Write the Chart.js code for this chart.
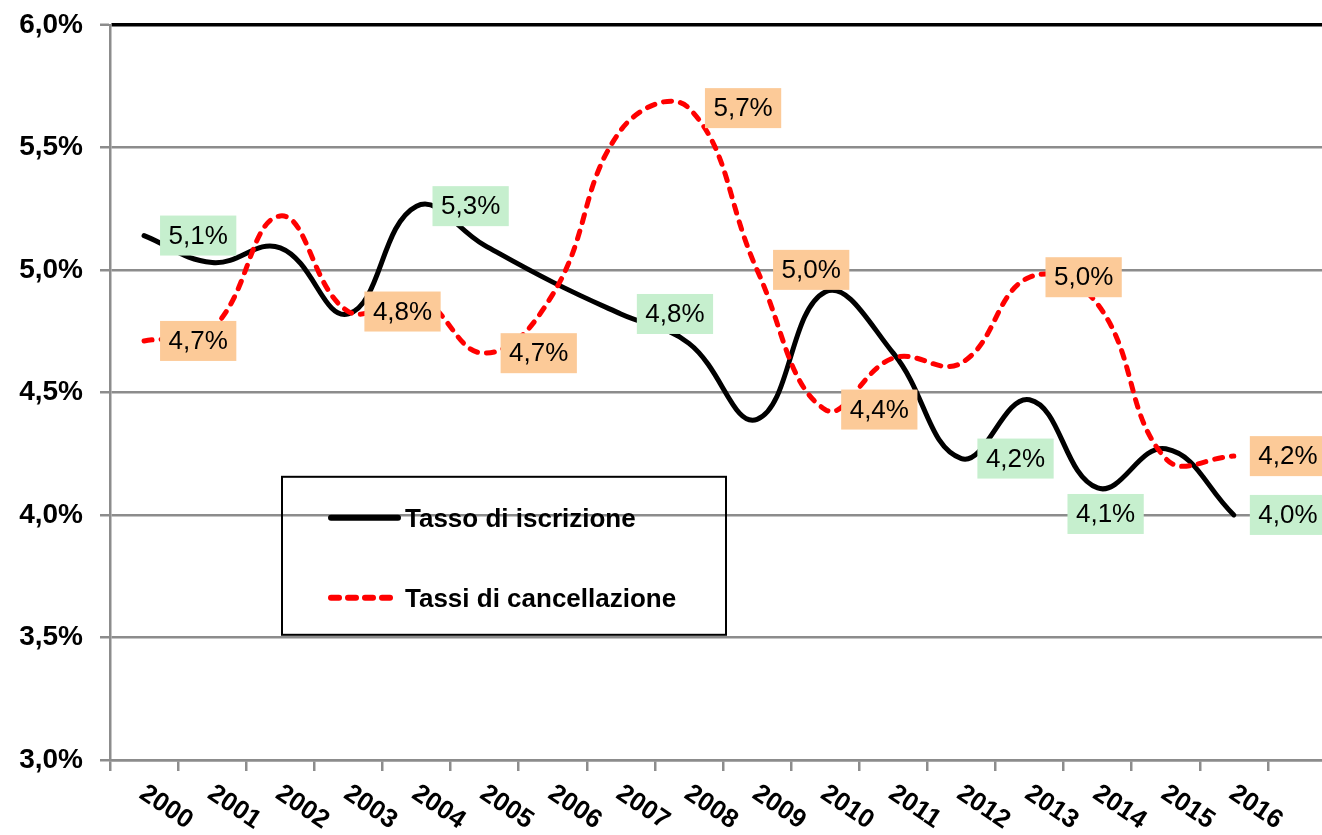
<!DOCTYPE html>
<html><head><meta charset="utf-8">
<script src="https://cdn.jsdelivr.net/npm/chart.js@4"></script>
<style>
html,body{margin:0;padding:0;background:#fff;overflow:hidden;}
#wrap{position:relative;width:1340px;height:844px;margin-top:-9px;}
</style></head><body>
<div id="wrap"><canvas id="c"></canvas></div>
<script>
// ---- data ----
const years = ['2000','2001','2002','2003','2004','2005','2006','2007','2008','2009','2010','2011','2012','2013','2014','2015','2016'];
const iscrizione = [5.14, 5.03, 5.09, 4.82, 5.26, 5.10, 4.95, 4.82, 4.70, 4.39, 4.91, 4.66, 4.23, 4.47, 4.11, 4.27, 4.00];
const cancellazione = [4.71, 4.76, 5.22, 4.83, 4.89, 4.66, 4.90, 5.57, 5.66, 5.00, 4.43, 4.64, 4.62, 4.97, 4.86, 4.23, 4.24];
const yTickValues = [3.0, 3.5, 4.0, 4.5, 5.0, 5.5, 6.0];
const seriesNames = ['Tasso di iscrizione', 'Tassi di cancellazione'];
const iscrizioneLabelIdx = [0, 4, 7, 12, 14, 16];
const iscrizioneLabelBelow = [14];
const cancellazioneLabelIdx = [0, 3, 5, 8, 9, 10, 13, 16];

const FONT = '"Liberation Sans", Arial, sans-serif';
const GRAY = '#8c8c8c';
const fmt = v => v.toFixed(1).replace('.', ',') + '%';

const overlay = {
  id: 'overlay',
  afterDatasetsDraw(chart) {
    const ctx = chart.ctx;
    const top = chart.chartArea.top; // legend positioned relative to chart area
    const dy = top - 24;
    ctx.save();
    // data labels
    const specs = [
      {ds: 0, idx: iscrizioneLabelIdx, below: iscrizioneLabelBelow, fill: '#C6EFCE'},
      {ds: 1, idx: cancellazioneLabelIdx, below: [], fill: '#FCCA98'}
    ];
    ctx.font = '26px ' + FONT;
    ctx.textAlign = 'center';
    ctx.textBaseline = 'middle';
    specs.forEach(s => {
      const meta = chart.getDatasetMeta(s.ds);
      const vals = chart.data.datasets[s.ds].data;
      s.idx.forEach(i => {
        const p = meta.data[i];
        const txt = fmt(vals[i]);
        const w = ctx.measureText(txt).width + 17, h = 40;
        let x0, y0;
        if (s.below.includes(i)) { x0 = p.x + 8 - w / 2; y0 = p.y + 6; }
        else { x0 = p.x + 16; y0 = p.y - h / 2; }
        ctx.fillStyle = s.fill;
        ctx.fillRect(x0, y0, w, h);
        ctx.fillStyle = '#000';
        ctx.fillText(txt, x0 + w / 2, y0 + h / 2 + 1);
      });
    });
    // rotated x labels
    const xs = chart.scales.x;
    ctx.font = 'bold 26px ' + FONT;
    ctx.textAlign = 'left';
    ctx.textBaseline = 'middle';
    ctx.fillStyle = '#000';
    years.forEach((y, i) => {
      const x = xs.getPixelForValue(i);
      ctx.save();
      ctx.translate(x - 2, xs.top + 31);
      ctx.rotate(34 * Math.PI / 180);
      ctx.fillText(y, 0, 0);
      ctx.restore();
    });
    // legend (transparent box)
    ctx.lineWidth = 2;
    ctx.strokeStyle = '#000';
    ctx.strokeRect(282, 476 + dy, 444, 158);
    const rows = [517 + dy, 597 + dy];
    ctx.font = 'bold 26px ' + FONT;
    ctx.textAlign = 'left';
    ctx.textBaseline = 'middle';
    chart.data.datasets.forEach((d, k) => {
      ctx.save();
      ctx.strokeStyle = d.borderColor;
      ctx.lineWidth = d.borderWidth + 1;
      ctx.lineCap = 'round';
      ctx.setLineDash(d.borderDash || []);
      ctx.beginPath();
      ctx.moveTo(331, rows[k]);
      ctx.lineTo(398, rows[k]);
      ctx.stroke();
      ctx.restore();
      ctx.fillStyle = '#000';
      ctx.fillText(d.label, 405, rows[k] + 2);
    });
    ctx.restore();
  }
};

new Chart(document.getElementById('c'), {
  type: 'line',
  data: {
    labels: [...years, ''],
    datasets: [
      {label: seriesNames[0], data: iscrizione, borderColor: '#000', borderWidth: 5,
       tension: 0.42, pointRadius: 0, order: 1, borderCapStyle: 'round'},
      {label: seriesNames[1], data: cancellazione, borderColor: '#ff0000', borderWidth: 5,
       borderDash: [8, 9], borderCapStyle: 'round', tension: 0.42, pointRadius: 0, order: 0}
    ]
  },
  options: {
    responsive: true,
    maintainAspectRatio: false,
    animation: false,
    events: [],
    layout: {padding: {top: 15, right: 4, left: 0, bottom: 0}},
    plugins: {legend: {display: false}, tooltip: {enabled: false}},
    scales: {
      x: {
        offset: true,
        ticks: {display: false},
        grid: {display: true, drawOnChartArea: false, drawTicks: true, tickLength: 11,
               color: GRAY, lineWidth: 2.5, offset: true},
        border: {color: GRAY, width: 2.5},
        afterFit: s => { s.height = 75; }
      },
      y: {
        min: 3, max: 6,
        afterBuildTicks: s => { s.ticks = yTickValues.map(v => ({value: v})); },
        ticks: {
          color: '#000', padding: 17,
          font: {family: FONT, size: 28, weight: 'bold'},
          callback: v => fmt(v)
        },
        grid: {
          color: c => (c.tick && c.tick.value === 6) ? '#000' : GRAY,
          lineWidth: c => (c.tick && c.tick.value === 6) ? 3.5 : 2.5,
          tickLength: 10, tickColor: GRAY, tickWidth: 2.5
        },
        border: {color: GRAY, width: 2.5},
        afterFit: s => { s.width = 110; }
      }
    }
  },
  plugins: [overlay]
});
</script>
</body></html>
